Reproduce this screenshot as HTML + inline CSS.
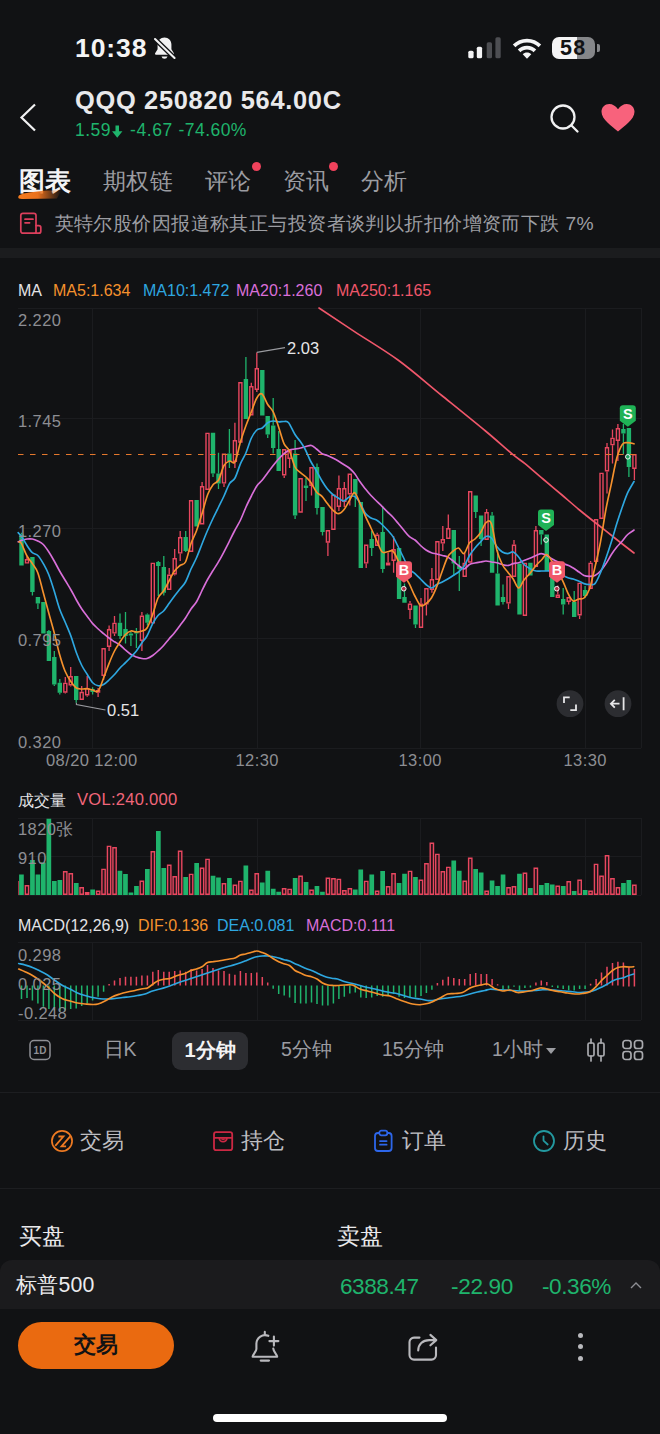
<!DOCTYPE html>
<html lang="zh">
<head>
<meta charset="utf-8">
<title>QQQ 250820 564.00C</title>
<style>
html,body{margin:0;padding:0;background:#111214;}
body{width:660px;height:1434px;position:relative;overflow:hidden;font-family:"Liberation Sans",sans-serif;color:#e9e9eb;}
.t{position:absolute;white-space:nowrap;line-height:1;}
.chart{position:absolute;left:0;top:300px;}
svg{display:block}
.ico{position:absolute;}
.g{color:#1fb46c}.gray{color:#8d8e93}.lg{color:#c9c9cd}
.ax{font-size:16.5px;color:#8d8e93;letter-spacing:.4px}
.lgd{font-size:16px;top:283px}
.band{position:absolute;left:0;width:660px;background:#1a1b1d}
.dot{position:absolute;width:9px;height:9px;border-radius:50%;background:#f0425c}
.tab{font-size:23.3px;color:#9b9ca1;top:169.5px;letter-spacing:.8px}
.per{font-size:19.5px;color:#9b9ca1;top:1040px}
.act{font-size:22px;color:#bdbdc1;top:1130px}
</style>
</head>
<body>

<!-- status bar -->
<div class="t" style="left:75px;top:35px;font-size:26.500px;font-weight:bold;color:#f4f4f5;letter-spacing:0.900px">10:38</div>
<svg class="ico" style="left:149.500px;top:33.500px" width="29" height="29" viewBox="0 0 26 26">
  <path d="M13 3.2c-3.6 0-6.2 2.7-6.2 6.3v4.2l-2.2 3.6c-.3.6 0 1.200.7 1.200h15.400c.7 0 1-.6.7-1.200l-2.200-3.600v-4.200c0-3.600-2.600-6.300-6.200-6.300z" fill="#f1f1f2"/>
  <path d="M10.300 20.200a2.800 2.800 0 0 0 5.400 0z" fill="#f1f1f2"/>
  <path d="M4.500 4.500L22 21.500" stroke="#111214" stroke-width="4.200" stroke-linecap="round"/>
  <path d="M4.500 4.500L22 21.500" stroke="#f1f1f2" stroke-width="1.900" stroke-linecap="round"/>
</svg>
<svg class="ico" style="left:466px;top:36px" width="36" height="24" viewBox="0 0 36 24">
  <rect x="2.300" y="14.700" width="5.300" height="7.600" rx="1.600" fill="#f4f4f5"/>
  <rect x="10.800" y="10.700" width="5.300" height="11.600" rx="1.600" fill="#f4f4f5"/>
  <rect x="20.700" y="6.300" width="5.300" height="16" rx="1.600" fill="#4d4e52"/>
  <rect x="29.400" y="1.300" width="5.300" height="21" rx="1.600" fill="#4d4e52"/>
</svg>
<svg class="ico" style="left:508.500px;top:34px" width="36" height="27" viewBox="0 0 32 24">
  <path d="M16 4.200c5 0 9.400 2 12.600 5.200l-2.300 2.400C23.700 9.200 20 7.600 16 7.600S8.300 9.200 5.700 11.800L3.400 9.400C6.600 6.200 11 4.200 16 4.200z" fill="#f4f4f5"/>
  <path d="M16 10.400c3.200 0 6.100 1.300 8.200 3.400l-2.400 2.400c-1.500-1.500-3.500-2.400-5.800-2.400s-4.300.9-5.800 2.400l-2.400-2.400c2.100-2.100 5-3.400 8.200-3.400z" fill="#f4f4f5"/>
  <path d="M16 16.500c1.500 0 2.800.6 3.800 1.600L16 22l-3.800-3.900c1-1 2.300-1.600 3.800-1.600z" fill="#f4f4f5"/>
</svg>
<div class="ico" style="left:552px;top:37px;width:43px;height:22px;border-radius:7px;background:linear-gradient(90deg,#f4f4f5 0,#f4f4f5 57%,#858689 57%,#858689 100%)"></div>
<div class="ico" style="left:596.500px;top:44px;width:3px;height:8px;border-radius:0 2px 2px 0;background:#858689"></div>
<div class="t" style="left:560px;top:37.500px;font-size:21.500px;font-weight:bold;color:#111214;letter-spacing:1.300px">58</div>

<!-- header -->
<svg class="ico" style="left:16px;top:100px" width="26" height="34" viewBox="0 0 26 34">
  <path d="M19 4.500L5.500 17.500L19 30.500" stroke="#f1f1f2" stroke-width="2.200" fill="none" stroke-linejoin="miter"/>
</svg>
<div class="t" style="left:75px;top:88px;font-size:25.400px;font-weight:bold;color:#e9e9eb;letter-spacing:0.700px">QQQ 250820 564.00C</div>
<div class="t g" style="left:75px;top:122px;font-size:17.500px;letter-spacing:0.500px">1.59</div>
<svg class="ico" style="left:111px;top:124.500px" width="12.500" height="13.500" viewBox="0 0 12 13"><path d="M4.300 0.500h3.400v5.500h3.300L6 12.200L1 6h3.300z" fill="#1fb46c"/></svg>
<div class="t g" style="left:130px;top:122px;font-size:17.500px;letter-spacing:0.600px">-4.67</div>
<div class="t g" style="left:178.500px;top:122px;font-size:17.500px;letter-spacing:0.450px">-74.60%</div>

<svg class="ico" style="left:546px;top:100px" width="36" height="36" viewBox="0 0 36 36">
  <circle cx="17" cy="17" r="11.500" stroke="#f1f1f2" stroke-width="2.300" fill="none"/>
  <path d="M25.500 25.500L31.500 31.500" stroke="#f1f1f2" stroke-width="2.300" stroke-linecap="round"/>
</svg>
<svg class="ico" style="left:598px;top:100px" width="40" height="36" viewBox="0 0 40 36">
  <path d="M20 31.500C14 26.500 3.500 19.500 3.500 11.800C3.500 7.200 7 4 11.200 4c3.400 0 6.600 2 8.800 5.200C22.200 6 25.400 4 28.800 4C33 4 36.500 7.200 36.500 11.800C36.500 19.500 26 26.500 20 31.500z" fill="#f8627c"/>
</svg>

<!-- tabs -->
<div class="t" style="left:19px;top:167.500px;font-size:26px;font-weight:bold;color:#f4f4f5">图表</div>
<svg class="ico" style="left:14px;top:186px" width="56" height="18" viewBox="14 186 56 18">
  <defs><linearGradient id="sw" x1="0" x2="1" y1="0" y2="0"><stop offset="0" stop-color="#f57c1f"/><stop offset="0.450" stop-color="#e8701c"/><stop offset="1" stop-color="#e8701c" stop-opacity="0"/></linearGradient></defs>
  <path d="M18.300 196.800C18.800 194.600 23 193.600 29 192.600L46 190.600L61.500 190.300L57 198.400L22 199C19.200 199 17.900 198.400 18.300 196.800z" fill="url(#sw)"/>
</svg>
<div class="t tab" style="left:102.500px;">期权链</div>
<div class="t tab" style="left:204.500px;">评论</div>
<div class="dot" style="left:251.500px;top:161.500px"></div>
<div class="t tab" style="left:282.500px;">资讯</div>
<div class="dot" style="left:328.500px;top:161.500px"></div>
<div class="t tab" style="left:360.500px;">分析</div>

<!-- news -->
<svg class="ico" style="left:16px;top:208px" width="30" height="30" viewBox="16 208 30 30">
  <g stroke="#dc3f5c" stroke-width="1.700" fill="none" stroke-linejoin="round" stroke-linecap="round">
  <path d="M23 213.400h10.800a2.200 2.200 0 0 1 2.200 2.200v17.600h-13a2.200 2.200 0 0 1-2.200-2.200v-15.400a2.200 2.200 0 0 1 2.200-2.200z"/>
  <path d="M36 225.600h2.800a2 2 0 0 1 2 2v3.600a2 2 0 0 1-2 2h-3.500"/>
  <path d="M25 219.200h8M25 222.800h4.600"/>
  </g>
</svg>
<div class="t" style="left:54.500px;top:213.500px;font-size:19.250px;letter-spacing:0.430px;color:#9d9ea3">英特尔股价因报道称其正与投资者谈判以折扣价增资而下跌 7%</div>

<div class="band" style="top:248px;height:9.500px;background:#1b1c1e"></div>

<!-- MA legend -->
<div class="t lgd" style="left:18px;color:#e3e3e6">MA</div>
<div class="t lgd" style="left:53px;color:#f5912d">MA5:1.634</div>
<div class="t lgd" style="left:143px;color:#2ea7e0">MA10:1.472</div>
<div class="t lgd" style="left:236px;color:#d96fd9">MA20:1.260</div>
<div class="t lgd" style="left:336px;color:#f0576b">MA250:1.165</div>

<svg class="chart" width="660" height="760" viewBox="0 300 660 760" shape-rendering="geometricPrecision">
<g stroke="#1b1c1f" stroke-width="1" fill="none">
<path d="M18 308.5 H641"/>
<path d="M18 418.5 H641"/>
<path d="M18 528.5 H641"/>
<path d="M18 638.5 H641"/>
<path d="M18 748.5 H641"/>
<path d="M92.5 308 V748"/>
<path d="M257.5 308 V748"/>
<path d="M420.5 308 V748"/>
<path d="M585.5 308 V748"/>
<path d="M641.5 308 V748"/>
<path d="M18 818.5 H641"/>
<path d="M18 856.5 H641"/>
<path d="M18 895.5 H641"/>
<path d="M92.5 818 V895"/>
<path d="M257.5 818 V895"/>
<path d="M420.5 818 V895"/>
<path d="M585.5 818 V895"/>
<path d="M641.5 818 V895"/>
<path d="M18 942.5 H641"/>
<path d="M18 1020.5 H641"/>
<path d="M92.5 942 V1020"/>
<path d="M257.5 942 V1020"/>
<path d="M420.5 942 V1020"/>
<path d="M585.5 942 V1020"/>
<path d="M641.5 942 V1020"/>
</g>
<path d="M19.3 534.5h4.4v31h-4.4zM30.2 557h4.4v35h-4.4zM35.7 597h4.4v6.6h-4.4zM41.2 602h4.4v31.6h-4.4zM46.7 631h4.4v30h-4.4zM52.1 657h4.4v27.5h-4.4zM57.6 682.7h4.4v10h-4.4zM74 676h4.4v24h-4.4zM90.4 689h4.4v3h-4.4zM117.8 622.7h4.4v13.3h-4.4zM123.3 629h4.4v7h-4.4zM128.7 633.6h4.4v1.9h-4.4zM134.2 632h4.4v1.6h-4.4zM145.2 614.5h4.4v8.2h-4.4zM156.1 562h4.4v4h-4.4zM161.6 567h4.4v25.7h-4.4zM183.5 537h4.4v14h-4.4zM194.4 500h4.4v26.4h-4.4zM210.8 432.7h4.4v40.9h-4.4zM216.3 473.6h4.4v10h-4.4zM227.2 453.6h4.4v7.4h-4.4zM243.7 379h4.4v40h-4.4zM260.1 370h4.4v45.5h-4.4zM265.5 416h4.4v18.5h-4.4zM271 425.5h4.4v22.5h-4.4zM276.5 449h4.4v22h-4.4zM292.9 453.6h4.4v61.9h-4.4zM303.8 485.5h4.4v2.5h-4.4zM314.8 467h4.4v41h-4.4zM320.3 507h4.4v25h-4.4zM353.1 479h4.4v15.5h-4.4zM358.6 502h4.4v66h-4.4zM369.5 539h4.4v9h-4.4zM380.5 532h4.4v37h-4.4zM396.9 548h4.4v51h-4.4zM402.3 597h4.4v5.7h-4.4zM413.3 605.5h4.4v19h-4.4zM451.6 530h4.4v33.6h-4.4zM457.1 566h4.4v3h-4.4zM473.5 495.5h4.4v16.5h-4.4zM478.9 515.5h4.4v23.5h-4.4zM489.9 515.5h4.4v57.2h-4.4zM495.4 573.6h4.4v31.9h-4.4zM500.8 597h4.4v5h-4.4zM517.3 563.6h4.4v50.9h-4.4zM528.2 562.7h4.4v12.8h-4.4zM539.1 530h4.4v4.5h-4.4zM544.6 534.5h4.4v36.5h-4.4zM550.1 571h4.4v26h-4.4zM561 599h4.4v5.5h-4.4zM572 602h4.4v15h-4.4zM582.9 590h4.4v6h-4.4zM621.2 429h4.4v4.6h-4.4zM626.7 428h4.4v39h-4.4z" fill="#1fb46c"/>
<path d="M21.5 532.7V534.5M32.4 592V595.5M37.9 603.6V609M48.9 630V631M54.3 651V657M54.3 684.5V686M59.8 679V682.7M59.8 692.7V694.5M76.2 700V702.7M92.6 687.3V689M92.6 692V694.5M120 613.6V622.7M120 636V639M125.5 612V629M125.5 636V643.6M130.9 632V633.6M130.9 635.5V646M136.4 628V632M136.4 633.6V648M147.4 613.6V614.5M147.4 622.7V625.5M158.3 561V562M158.3 566V596M163.8 556V567M163.8 592.7V595.5M185.7 531V537M185.7 551V552M213 473.6V477M218.5 452.7V473.6M218.5 483.6V489M229.4 429V453.6M229.4 461V468M245.9 357V379M267.7 434.5V438M273.2 398V425.5M273.2 448V453.6M278.7 431V449M295.1 440V453.6M295.1 515.5V519M306 478V485.5M306 488V501M317 463.6V467M317 508V514.5M322.5 532V535.5M355.3 494.5V507M371.7 531V539M371.7 548V556M382.7 506V532M382.7 569V572.7M404.5 583.6V597M415.5 624.5V628M453.8 563.6V575.5M459.3 556V566M459.3 569V591M475.7 512V518M481.1 539V546M492.1 512V515.5M497.6 550V573.6M503 584.5V597M503 602V604.5M541.3 534.5V544.5M563.2 588V599M563.2 604.5V614.5M574.2 591V602M585.1 586V590M585.1 596V598M623.4 424V429M623.4 433.6V454M628.9 467V477" stroke="#1fb46c" stroke-width="1.3" fill="none"/>
<path d="M25.5 559.7h3v3.2h-3zM63.8 683.4h3v8.6h-3zM69.2 676.7h3v8.1h-3zM80.2 692.5h3v6.8h-3zM85.7 688.7h3v6.1h-3zM96.6 690.7h3v1.3h-3zM102.1 648.7h3v26.6h-3zM107.6 629.7h3v16.6h-3zM113 623.4h3v9.5h-3zM140.4 616.2h3v24.1h-3zM151.3 563.4h3v59.5h-3zM167.7 575.2h3v14.1h-3zM173.2 558.7h3v15.1h-3zM178.7 537.7h3v15.2h-3zM189.6 500.7h3v50.6h-3zM200.6 486.7h3v37.1h-3zM206 433.4h3v55.9h-3zM222.5 454.3h3v28.6h-3zM233.4 440.7h3v20.6h-3zM238.9 382.7h3v59.3h-3zM249.8 386.7h3v28.1h-3zM255.3 368.7h3v20.6h-3zM282.7 449.7h3v25.1h-3zM288.1 450.7h3v7.6h-3zM299.1 478.7h3v33.3h-3zM310 467.7h3v17.6h-3zM326.4 530.7h3v11.3h-3zM331.9 495.2h3v34.1h-3zM337.4 488.7h3v17.6h-3zM342.8 488.7h3v12.6h-3zM348.3 474.3h3v19.5h-3zM364.7 545.2h3v17.7h-3zM375.7 535.2h3v10.1h-3zM386.6 563.2h3v1.6h-3zM392.1 549.7h3v10.6h-3zM408.5 604.3h3v5h-3zM419.5 604.3h3v23h-3zM424.9 588.7h3v15.1h-3zM430.4 579.7h3v9.6h-3zM435.9 541.7h3v37.6h-3zM441.3 539.7h3v3.2h-3zM446.8 528.7h3v9.6h-3zM463.2 563.4h3v12.9h-3zM468.7 491.7h3v70.3h-3zM485.1 512.7h3v26.6h-3zM507 576.7h3v26.2h-3zM512.5 545.2h3v31.1h-3zM523.4 563.4h3v51.9h-3zM534.4 530.7h3v35.6h-3zM556.3 595.2h3v2.1h-3zM567.2 597.7h3v3.6h-3zM578.1 583.4h3v31.4h-3zM589.1 563.4h3v24.9h-3zM594.6 519.7h3v41.6h-3zM600 473.4h3v44.9h-3zM605.5 447.7h3v23.1h-3zM611 438.4h3v6.2h-3zM616.4 428.7h3v11.6h-3zM632.9 454.7h3v13.6h-3z" stroke="#e8475f" stroke-width="1.4" fill="#111214"/>
<path d="M27 556.5V559M65.3 677V682.7M65.3 692.7V693.6M70.7 667V676M70.7 685.5V686.4M81.7 686V691.8M87.2 676V688M87.2 695.5V696.7M98.1 688V690M98.1 692.7V697M103.6 676V680M109.1 625.5V629M109.1 647V651M114.5 616V622.7M114.5 633.6V636M141.9 612V615.5M141.9 641V651M169.2 568V574.5M174.7 549V558M174.7 574.5V575.5M180.2 531V537M180.2 553.6V561M202.1 482V486M224 483.6V487M234.9 422.7V440M234.9 462V468M251.3 382.7V386M256.8 352.4V368M256.8 390V392M284.2 475.5V478M289.6 449V450M289.6 459V468M311.5 486V495.5M327.9 542.7V556M338.9 475.5V488M338.9 507V511M344.3 482V488M344.3 502V507M349.8 494.5V505.5M366.2 563.6V568M377.2 532.7V534.5M388.1 552.7V562.5M393.6 536V549M393.6 561V572.7M410 601V603.6M410 610V619M421 598V603.6M426.4 604.5V615.5M431.9 568V579M431.9 590V592.7M442.8 526V539M442.8 543.6V551M448.3 514.5V528M464.7 552.7V562.7M486.6 509V512M508.5 603.6V609M514 540V544.5M535.9 526V530M557.8 585.5V594.5M568.7 602V604.5M579.6 615.5V619M590.6 561V562.7M596.1 562V563.6M607 443V447M607 471.5V493.6M612.5 429.5V437.7M612.5 445.3V463.6M617.9 424V428M617.9 441V461M634.4 469V480" stroke="#e8475f" stroke-width="1.3" fill="none"/>
<path d="M18 454.5H641" stroke="#e5782d" stroke-width="1.2" stroke-dasharray="5.5 6.5" fill="none"/>
<path d="M319 308 C324.9 311.9 341.3 322.9 354.5 331.6 C367.7 340.3 383.4 349.4 398 360 C412.6 370.6 427.2 383.7 441.8 395.5 C456.4 407.3 473.7 421.2 485.5 431 C497.3 440.8 506.1 449 512.7 454.4 C519.3 459.8 520 459.5 525 463.6 C530 467.7 536.9 473.9 543 479 C549.1 484.1 555.3 489.3 561.4 494.5 C567.5 499.7 573.5 505 579.5 510 C585.5 515 591.6 519.7 597.7 524.5 C603.8 529.3 610 534.2 616 539 C622 543.8 631 550.7 634 553" stroke="#f0576b" stroke-width="1.65" fill="none" stroke-linejoin="round" stroke-linecap="round"/>
<path d="M18.2 541.8 C18.8 541.6 20 540.9 21.5 540.4 C23 539.9 25.2 539.2 27 539 C28.8 538.8 30.6 538.7 32.4 539 C34.2 539.3 36 540.1 37.8 541 C39.6 541.9 41.5 542.7 43.3 544.5 C45.1 546.3 46.9 549 48.7 551.8 C50.5 554.5 52.4 557.8 54.2 561 C56 564.2 57.8 567.8 59.6 571 C61.4 574.2 63.1 576.8 65 580 C66.9 583.2 69.1 586.7 71 590 C72.9 593.3 74.6 596.8 76.4 600 C78.2 603.2 80 606.3 81.8 609 C83.6 611.7 85.5 614 87.3 616.4 C89.1 618.8 90.9 621.5 92.7 623.6 C94.5 625.7 96.4 627.3 98.2 629 C100 630.7 101.8 632.1 103.6 633.6 C105.4 635.1 107.2 636.6 109 638 C110.8 639.4 112.7 640.6 114.5 641.8 C116.3 643 118.2 643.6 120 645 C121.8 646.4 123.7 648.4 125.5 650 C127.3 651.6 129.2 653.3 131 654.5 C132.8 655.7 134.6 656.3 136.4 657 C138.2 657.7 140.2 658.2 142 658.5 C143.8 658.8 145.2 659 147 658.5 C148.8 658 150.9 656.8 152.7 655.5 C154.5 654.2 156.2 652.7 158 651 C159.8 649.3 161.8 647.5 163.6 645.5 C165.4 643.5 167.2 641.1 169 639 C170.8 636.9 172.7 635 174.5 632.7 C176.3 630.5 178.2 628 180 625.5 C181.8 623 183.7 620.8 185.5 618 C187.3 615.2 189.2 611.7 191 609 C192.8 606.3 194.6 605 196.4 602 C198.2 599 200 594.7 201.8 591 C203.6 587.3 205.5 583.3 207.3 580 C209.1 576.7 210.9 573.9 212.7 571 C214.5 568.1 216.2 565.8 218 562.7 C219.8 559.7 221.8 556.2 223.6 552.7 C225.4 549.2 227.2 545.6 229 542 C230.8 538.4 232.6 534.7 234.5 531 C236.4 527.3 238.6 524 240.5 520 C242.4 516 244.2 511 246 507 C247.8 503 249.6 499.5 251.4 496 C253.2 492.5 255 488.7 256.8 486 C258.6 483.3 260.5 482.2 262.3 480 C264.1 477.8 265.9 475.1 267.7 472.7 C269.5 470.3 271.4 467.8 273.2 465.5 C275 463.2 276.8 461 278.6 459 C280.4 457 282.2 455.1 284 453.6 C285.8 452.1 287.7 450.8 289.5 450 C291.3 449.2 293.2 449.3 295 449 C296.8 448.7 298.7 448.4 300.5 448 C302.3 447.6 304.2 446.9 306 446.5 C307.8 446.1 309.6 445.1 311.4 445.5 C313.1 445.9 314.7 447.6 316.5 449 C318.3 450.4 320.2 452.5 322 453.6 C323.8 454.7 325.6 454.8 327.4 455.5 C329.2 456.2 331 457.1 332.8 458 C334.6 458.9 336.5 459.9 338.3 461 C340.1 462.1 341.9 463.3 343.7 464.5 C345.5 465.7 347.4 466.5 349.2 468 C351 469.5 352.8 471.3 354.6 473.6 C356.4 475.9 358.2 479.2 360 481.8 C361.8 484.4 363.7 486.7 365.5 489 C367.3 491.3 369.2 493.5 371 495.5 C372.8 497.5 374.7 499.2 376.5 501 C378.3 502.8 380.2 504.6 382 506.4 C383.8 508.2 385.6 510 387.4 511.8 C389.2 513.6 391 515 392.8 517 C394.6 519 396.5 521.4 398.3 523.6 C400.1 525.8 401.9 527.9 403.7 530 C405.5 532.1 407.3 534.7 409.2 536.4 C411.1 538.1 413.1 538.5 415 540 C416.9 541.5 418.7 543.8 420.5 545.5 C422.3 547.2 424.2 548.8 426 550 C427.8 551.2 429.6 552 431.4 552.7 C433.2 553.4 435 553.5 436.8 554 C438.6 554.5 440.5 555 442.3 555.5 C444.1 556 445.9 556.1 447.7 557 C449.5 557.9 451.4 559.6 453.2 561 C455 562.4 456.8 564.2 458.6 565.5 C460.4 566.8 462.2 569.2 464 569 C465.8 568.8 467.7 565.5 469.5 564.5 C471.3 563.5 473.2 563.4 475 563 C476.8 562.6 478.7 562.3 480.5 562 C482.3 561.7 484.2 561 486 561 C487.8 561 489.6 561.7 491.4 562 C493.2 562.3 495 562.3 496.8 562.7 C498.6 563.1 500.5 564 502.3 564.5 C504.1 565 505.9 565.6 507.7 565.5 C509.5 565.4 511.4 564.1 513.2 563.6 C515 563.1 516.8 563.2 518.6 562.7 C520.4 562.2 522 561.3 524 560.5 C526 559.7 528.5 558.8 530.5 558 C532.5 557.2 534.2 556.2 536 555.5 C537.8 554.8 539.6 553.6 541.4 553.6 C543.2 553.6 545 554.6 546.8 555.5 C548.6 556.4 550.5 558 552.3 559 C554.1 560 555.9 561 557.7 561.8 C559.5 562.6 561.4 563 563.2 563.6 C565 564.2 566.9 564.8 568.6 565.5 C570.3 566.2 571.5 567 573.2 568 C574.9 569 576.8 570.5 578.6 571.8 C580.4 573 582.2 574.7 584 575.5 C585.8 576.3 587.7 576.4 589.5 576.4 C591.3 576.4 593.2 576.4 595 575.5 C596.8 574.6 598.7 573 600.5 571 C602.3 569 604.2 566.4 606 563.6 C607.8 560.9 609.6 557.3 611.4 554.5 C613.2 551.7 615 549.2 616.8 547 C618.6 544.8 620.5 543.1 622.3 541 C624.1 538.9 625.8 536.3 627.7 534.5 C629.7 532.7 633 530.8 634 530" stroke="#d96fd9" stroke-width="1.65" fill="none" stroke-linejoin="round" stroke-linecap="round"/>
<path d="M18.2 532.7 C18.8 533.3 20 534.3 21.5 536.4 C23 538.5 25.2 542.8 27 545.5 C28.8 548.2 30.6 551 32.4 552.7 C34.2 554.4 36 553.7 37.8 555.5 C39.6 557.3 41.5 560.4 43.3 563.6 C45.1 566.8 46.9 569.9 48.7 574.5 C50.5 579.1 52.4 585.2 54.2 591 C56 596.8 57.8 603.9 59.6 609 C61.4 614.1 63.1 617.2 65 621.8 C66.9 626.4 69.1 631.2 71 636.4 C72.9 641.5 74.6 647.9 76.4 652.7 C78.2 657.6 80 661.9 81.8 665.5 C83.6 669.1 85.5 671.6 87.3 674.5 C89.1 677.4 90.9 680.8 92.7 682.7 C94.5 684.6 96.4 685.5 98.2 685.8 C100 686.1 101.8 685.5 103.6 684.5 C105.4 683.5 107.2 681.7 109 680 C110.8 678.3 112.7 676.5 114.5 674.5 C116.3 672.5 118.2 670 120 668 C121.8 666 123.7 664.5 125.5 662.7 C127.3 660.9 129.2 659 131 657 C132.8 655 134.6 653.4 136.4 651 C138.2 648.6 140.2 645.2 142 642.7 C143.8 640.2 145.2 639.2 147 636 C148.8 632.8 150.9 627 152.7 623.6 C154.5 620.2 156.2 617.6 158 615.5 C159.8 613.4 161.8 613 163.6 611 C165.4 609 167.2 606.1 169 603.6 C170.8 601.1 172.7 598.4 174.5 596 C176.3 593.6 178.2 591.3 180 589 C181.8 586.7 183.7 585.3 185.5 582 C187.3 578.7 189.2 573 191 569 C192.8 565 194.6 562.1 196.4 558 C198.2 553.9 200 549 201.8 544.5 C203.6 540 205.4 535.4 207.3 531 C209.2 526.6 211.3 522 213.2 518 C215.1 514 216.8 510.7 218.6 507 C220.4 503.3 222.2 499.9 224 496 C225.8 492.1 227.7 486.6 229.5 483.6 C231.3 480.6 233.2 481.3 235 478 C236.8 474.7 238.7 467.8 240.5 463.6 C242.3 459.4 244.2 457 246 452.7 C247.8 448.4 249.6 441.8 251.4 438 C253.2 434.2 255 431.7 256.8 430 C258.6 428.3 260.5 429.2 262.3 428 C264.1 426.8 265.9 423.9 267.7 422.7 C269.5 421.5 271.4 421.1 273.2 421 C275 420.9 276.8 421.7 278.6 421.8 C280.4 421.9 282.3 421.4 284 421.5 C285.7 421.6 286.8 420.5 288.6 422.7 C290.4 424.9 293 431.3 295 434.5 C297 437.7 298.8 439.4 300.5 441.8 C302.2 444.2 303.3 445.8 305 449 C306.7 452.2 308.6 457.3 310.5 461 C312.4 464.7 314.6 467.7 316.5 471 C318.4 474.3 320.2 478 322 481 C323.8 484 325.6 486.8 327.4 489 C329.2 491.2 331 493 332.8 494.5 C334.6 496 336.5 496.9 338.3 498 C340.1 499.1 341.9 501.2 343.7 501 C345.5 500.8 347.4 497.8 349.2 497 C351 496.2 352.8 495.4 354.6 496.4 C356.4 497.3 358.2 499.8 360 502.7 C361.8 505.6 363.7 511.1 365.5 513.6 C367.3 516.1 369.2 516.9 371 518 C372.8 519.1 374.7 518.9 376.5 520 C378.3 521.1 380.2 522.8 382 524.5 C383.8 526.2 385.6 528 387.4 530 C389.2 532 391 533.6 392.8 536.4 C394.6 539.2 396.5 543.4 398.3 547 C400.1 550.6 401.9 554.3 403.7 558 C405.5 561.7 407.3 566.4 409.2 569 C411.1 571.6 413.1 571.9 415 573.6 C416.9 575.3 418.7 577.2 420.5 579 C422.3 580.8 424.2 583 426 584.5 C427.8 586 429.6 588 431.4 588 C433.2 588 435 585.5 436.8 584.5 C438.6 583.5 440.5 582.9 442.3 582 C444.1 581.1 445.9 580.1 447.7 579 C449.5 577.9 451.4 576.7 453.2 575.5 C455 574.3 456.8 573.5 458.6 572 C460.4 570.5 462.2 569.1 464 566.4 C465.8 563.6 467.7 558.6 469.5 555.5 C471.3 552.4 473.2 550.2 475 548 C476.8 545.8 478.7 543.9 480.5 542 C482.3 540.1 484.2 537.1 486 536.4 C487.8 535.7 489.6 536.3 491.4 538 C493.2 539.7 495 544.1 496.8 546.4 C498.6 548.7 500.5 550.8 502.3 552 C504.1 553.2 505.9 553.6 507.7 553.6 C509.5 553.6 511.4 551.4 513.2 552 C515 552.6 516.8 554.9 518.6 557 C520.4 559.1 522 562.5 524 564.5 C526 566.5 528.5 567.9 530.5 569 C532.5 570.1 534.2 570.7 536 571 C537.8 571.3 539.6 571 541.4 571 C543.2 571 545 571 546.8 571 C548.6 571 550.5 570.7 552.3 571 C554.1 571.3 555.9 572 557.7 572.7 C559.5 573.5 561.4 574.6 563.2 575.5 C565 576.4 566.9 577.4 568.6 578 C570.3 578.6 571.5 578.5 573.2 579 C574.9 579.5 576.8 580.2 578.6 581 C580.4 581.8 582.2 583 584 583.6 C585.8 584.2 587.7 584.5 589.5 584.5 C591.3 584.5 593.2 585.6 595 583.6 C596.8 581.6 598.7 577 600.5 572.7 C602.3 568.4 604.2 563.1 606 558 C607.8 552.9 609.6 547.5 611.4 541.8 C613.2 536.1 615 529.4 616.8 523.6 C618.6 517.8 620.5 512.1 622.3 507 C624.1 501.9 625.8 496.9 627.7 492.7 C629.7 488.4 633 483.4 634 481.5" stroke="#2ea7e0" stroke-width="1.65" fill="none" stroke-linejoin="round" stroke-linecap="round"/>
<path d="M19 541.8 C19.4 542.1 20.2 541.2 21.5 543.6 C22.8 546 25.2 552.7 27 556 C28.8 559.3 30.6 560.8 32.4 563.6 C34.2 566.4 36 567.9 37.8 572.7 C39.6 577.6 41.5 586 43.3 592.7 C45.1 599.4 46.9 606 48.7 612.7 C50.5 619.4 52.4 625.7 54.2 632.7 C56 639.7 57.8 648.1 59.6 654.5 C61.4 660.9 63.1 666.5 65 671 C66.9 675.5 69.1 679 71 681.8 C72.9 684.6 74.6 686.8 76.4 688 C78.2 689.2 80 688.9 81.8 689 C83.6 689.1 85.5 688.5 87.3 688.7 C89.1 688.9 90.9 689.6 92.7 690 C94.5 690.4 96.4 693 98.2 691 C100 689 101.8 682.6 103.6 678 C105.4 673.4 107.2 668.1 109 663.6 C110.8 659.1 112.7 654.6 114.5 651 C116.3 647.4 118.2 644.8 120 642 C121.8 639.2 123.7 636.3 125.5 634.5 C127.3 632.7 129.2 631.4 131 631 C132.8 630.6 134.6 632 136.4 632 C138.2 632 140.2 631.7 142 631 C143.8 630.3 145.2 630.8 147 628 C148.8 625.2 150.9 619.5 152.7 614.5 C154.5 609.5 156.2 601.9 158 598 C159.8 594.1 161.8 593.8 163.6 591 C165.4 588.2 167.2 584.3 169 581 C170.8 577.7 172.7 573.6 174.5 571 C176.3 568.4 178.2 567 180 565.5 C181.8 564 183.7 565.6 185.5 562 C187.3 558.4 189.2 548.8 191 543.6 C192.8 538.4 194.5 536.1 196.4 531 C198.3 525.9 200.4 518.8 202.3 512.7 C204.2 506.6 205.9 499.2 207.7 494.5 C209.5 489.8 211.4 486.9 213.2 484.5 C215 482.1 216.8 483.2 218.6 480 C220.4 476.8 222.2 468.7 224 465.5 C225.8 462.3 227.7 461.6 229.5 461 C231.3 460.4 233.2 465 235 461.8 C236.8 458.6 238.7 447.9 240.5 441.8 C242.3 435.8 244.2 430.5 246 425.5 C247.8 420.5 249.6 416.4 251.4 411.8 C253.2 407.2 255 401 256.8 398 C258.6 395 260.2 392.9 262 394 C263.8 395.1 265.8 401.5 267.7 404.5 C269.6 407.5 271.4 408.1 273.2 411.8 C275 415.6 276.8 421.7 278.6 427 C280.4 432.3 282.2 439.6 284 443.6 C285.8 447.6 287.7 447.1 289.5 451 C291.3 454.9 293.2 463.4 295 467 C296.8 470.6 298.7 471 300.5 472.7 C302.3 474.4 304.3 475.4 306 477 C307.7 478.6 308.8 479.5 310.5 482 C312.2 484.5 314.6 489.6 316.5 492 C318.4 494.4 320.2 494.5 322 496.4 C323.8 498.3 325.6 501.3 327.4 503.6 C329.2 505.9 331 508.3 332.8 510 C334.6 511.7 336.5 513.6 338.3 513.6 C340.1 513.6 341.9 512.1 343.7 510 C345.5 507.9 347.4 503.9 349.2 501 C351 498.1 352.8 492.3 354.6 492.7 C356.4 493.1 358.2 499.7 360 503.6 C361.8 507.6 363.7 512.3 365.5 516.4 C367.3 520.5 369.2 524.1 371 528 C372.8 531.9 374.7 536 376.5 540 C378.3 544 380.2 549.8 382 551.8 C383.8 553.8 385.6 551.9 387.4 551.8 C389.2 551.7 391 549.5 392.8 551 C394.6 552.5 396.5 557.1 398.3 561 C400.1 564.9 401.9 570.7 403.7 574.5 C405.5 578.3 407.4 580.1 409.2 583.6 C411 587.1 412.7 591.9 414.6 595.5 C416.5 599.1 418.6 604.1 420.5 605.5 C422.4 606.9 424.2 604.9 426 603.6 C427.8 602.4 429.6 600.9 431.4 598 C433.2 595.1 435 590.9 436.8 586.4 C438.6 581.9 440.5 575.9 442.3 571 C444.1 566.1 445.9 560.3 447.7 557 C449.5 553.7 451.4 552.5 453.2 551 C455 549.5 456.8 547.6 458.6 548 C460.4 548.4 462.2 554.5 464 553.6 C465.8 552.7 467.7 545.1 469.5 542.7 C471.3 540.3 473.2 540.7 475 539 C476.8 537.3 478.7 535.4 480.5 532.7 C482.3 530 484.2 524.2 486 522.7 C487.8 521.2 489.6 519.1 491.4 523.6 C493.2 528.1 495 543.2 496.8 550 C498.6 556.8 500.5 560.8 502.3 564.5 C504.1 568.2 505.9 569.6 507.7 572 C509.5 574.4 511.4 576.3 513.2 579 C515 581.7 516.8 587.8 518.6 588 C520.4 588.2 522 582.5 524 580 C526 577.5 528.5 575.1 530.5 572.7 C532.5 570.3 534.2 567.6 536 565.5 C537.8 563.4 539.6 561.8 541.4 560 C543.2 558.2 545 554.2 546.8 554.5 C548.6 554.8 550.5 559 552.3 561.8 C554.1 564.5 555.9 567.7 557.7 571 C559.5 574.3 561.4 577.9 563.2 581.8 C565 585.7 566.9 591.3 568.6 594.5 C570.3 597.7 571.5 600.2 573.2 601 C574.9 601.8 576.8 599.5 578.6 599 C580.4 598.5 582.2 599.7 584 598 C585.8 596.3 587.7 594.2 589.5 589 C591.3 583.8 593.2 574.9 595 567 C596.8 559.1 598.7 551.5 600.5 541.8 C602.3 532.1 604.2 518.7 606 509 C607.8 499.3 609.6 492.1 611.4 483.6 C613.2 475.1 615 464.5 616.8 458 C618.6 451.5 620.5 447.1 622.3 444.5 C624.1 441.9 625.8 442.8 627.7 442.7 C629.7 442.6 633 443.6 634 443.8" stroke="#f5912d" stroke-width="1.65" fill="none" stroke-linejoin="round" stroke-linecap="round"/>
<path d="M256.8 352.4 L285 347.6" stroke="#9a9ba0" stroke-width="1.1" fill="none"/>
<path d="M76.4 702.7 V704.5 L105.5 710" stroke="#9a9ba0" stroke-width="1.1" fill="none"/>
<path d="M396 564.2 a3 3 0 0 1 3 -3 h10 a3 3 0 0 1 3 3 v12.5 l-8 6 l-8 -6 z" fill="#f0586a"/><text x="404" y="575.1" font-family="Liberation Sans, sans-serif" font-weight="bold" font-size="14.5" fill="#fff" text-anchor="middle">B</text>
<circle cx="403.8" cy="588.7" r="2.3" fill="#b5324a" stroke="#f3f3f3" stroke-width="1"/>
<path d="M538 512.5 a3 3 0 0 1 3 -3 h10 a3 3 0 0 1 3 3 v12.5 l-8 6 l-8 -6 z" fill="#1fb256"/><text x="546" y="523.4" font-family="Liberation Sans, sans-serif" font-weight="bold" font-size="14.5" fill="#fff" text-anchor="middle">S</text>
<circle cx="546" cy="540" r="2.3" fill="#17a05a" stroke="#f3f3f3" stroke-width="1"/>
<path d="M549 564.2 a3 3 0 0 1 3 -3 h10 a3 3 0 0 1 3 3 v12.5 l-8 6 l-8 -6 z" fill="#f0586a"/><text x="557" y="575.1" font-family="Liberation Sans, sans-serif" font-weight="bold" font-size="14.5" fill="#fff" text-anchor="middle">B</text>
<circle cx="556.8" cy="588.7" r="2.3" fill="#b5324a" stroke="#f3f3f3" stroke-width="1"/>
<path d="M619.8 408.3 a3 3 0 0 1 3 -3 h10 a3 3 0 0 1 3 3 v12.5 l-8 6 l-8 -6 z" fill="#1fb256"/><text x="627.8" y="419.2" font-family="Liberation Sans, sans-serif" font-weight="bold" font-size="14.5" fill="#fff" text-anchor="middle">S</text>
<circle cx="627.8" cy="456.8" r="2.3" fill="#17a05a" stroke="#f3f3f3" stroke-width="1"/>
<circle cx="570" cy="703.7" r="13.4" fill="#2c2d31"/>
<path d="M564 703 v-5.700 h5.700 M576 704.400 v5.700 h-5.700" stroke="#e6e6e8" stroke-width="1.800" fill="none"/>
<circle cx="618" cy="703.7" r="13.4" fill="#2c2d31"/>
<path d="M611 703.700 h8.500 M614.800 699.800 l-3.900 3.900 l3.900 3.900 M623.600 697.200 v13" stroke="#e6e6e8" stroke-width="1.800" fill="none"/>
<path d="M18.6 881V895" stroke="#e8475f" stroke-width="1" opacity=".75"/>
<path d="M19.1 874.5h4.7v20.5h-4.7zM30.1 860h4.7v35h-4.7zM35.6 874.5h4.7v20.5h-4.7zM41 862.5h4.7v32.5h-4.7zM46.5 818.7h4.7v76.3h-4.7zM52 881h4.7v14h-4.7zM57.5 880h4.7v15h-4.7zM73.9 883h4.7v12h-4.7zM90.3 889.5h4.7v5.5h-4.7zM117.6 870.7h4.7v24.3h-4.7zM123.1 874h4.7v21h-4.7zM128.6 892.5h4.7v2.5h-4.7zM134.1 886h4.7v9h-4.7zM145 869h4.7v26h-4.7zM156 831h4.7v64h-4.7zM161.4 868h4.7v27h-4.7zM183.3 877h4.7v18h-4.7zM194.3 863h4.7v32h-4.7zM210.7 875.7h4.7v19.3h-4.7zM216.1 877.5h4.7v17.5h-4.7zM227.1 878h4.7v17h-4.7zM243.5 865.5h4.7v29.5h-4.7zM259.9 882.5h4.7v12.5h-4.7zM265.4 870.7h4.7v24.3h-4.7zM270.9 888.7h4.7v6.3h-4.7zM276.3 891.7h4.7v3.3h-4.7zM292.8 878h4.7v17h-4.7zM303.7 882h4.7v13h-4.7zM314.6 886h4.7v9h-4.7zM320.1 891.7h4.7v3.3h-4.7zM352.9 889.5h4.7v5.5h-4.7zM358.4 869.5h4.7v25.5h-4.7zM369.4 874.5h4.7v20.5h-4.7zM380.3 871h4.7v24h-4.7zM396.7 883h4.7v12h-4.7zM402.2 873.7h4.7v21.3h-4.7zM413.1 877h4.7v18h-4.7zM451.4 860.5h4.7v34.5h-4.7zM456.9 870.7h4.7v24.3h-4.7zM473.3 869h4.7v26h-4.7zM478.8 872.5h4.7v22.5h-4.7zM489.7 880.5h4.7v14.5h-4.7zM495.2 886h4.7v9h-4.7zM500.7 874.5h4.7v20.5h-4.7zM517.1 873.7h4.7v21.3h-4.7zM528 888h4.7v7h-4.7zM539 885h4.7v10h-4.7zM544.5 883h4.7v12h-4.7zM549.9 884.5h4.7v10.5h-4.7zM560.9 886h4.7v9h-4.7zM571.8 891h4.7v4h-4.7zM582.8 890h4.7v5h-4.7zM621.1 883h4.7v12h-4.7zM626.5 880h4.7v15h-4.7z" fill="#1fb46c"/>
<path d="M25.3 885.7h3.3v8.6h-3.3zM63.6 871.7h3.3v22.6h-3.3zM69.1 873.7h3.3v20.6h-3.3zM80 887.7h3.3v6.6h-3.3zM85.5 892.7h3.3v1.6h-3.3zM96.5 891.2h3.3v3.1h-3.3zM101.9 869.4h3.3v24.9h-3.3zM107.4 846.4h3.3v47.9h-3.3zM112.9 847.7h3.3v46.6h-3.3zM140.2 881.2h3.3v13.1h-3.3zM151.2 851.7h3.3v42.6h-3.3zM167.6 865.2h3.3v29.1h-3.3zM173.1 876.7h3.3v17.6h-3.3zM178.5 851.2h3.3v43.1h-3.3zM189.5 874.4h3.3v19.9h-3.3zM200.4 868.2h3.3v26.1h-3.3zM205.9 859.4h3.3v34.9h-3.3zM222.3 883.7h3.3v10.6h-3.3zM233.3 885.2h3.3v9.1h-3.3zM238.7 881.4h3.3v12.9h-3.3zM249.7 890.2h3.3v4.1h-3.3zM255.1 873.7h3.3v20.6h-3.3zM282.5 888.7h3.3v5.6h-3.3zM288 889.4h3.3v4.9h-3.3zM298.9 876.2h3.3v18.1h-3.3zM309.9 890.2h3.3v4.1h-3.3zM326.3 878.2h3.3v16.1h-3.3zM331.8 878.7h3.3v15.6h-3.3zM337.2 879.4h3.3v14.9h-3.3zM342.7 890.7h3.3v3.6h-3.3zM348.2 888.7h3.3v5.6h-3.3zM364.6 881.4h3.3v12.9h-3.3zM375.5 891.2h3.3v3.1h-3.3zM386.5 886.7h3.3v7.6h-3.3zM391.9 873.7h3.3v20.6h-3.3zM408.4 871.4h3.3v22.9h-3.3zM419.3 880.2h3.3v14.1h-3.3zM424.8 863.7h3.3v30.6h-3.3zM430.2 843.2h3.3v51.1h-3.3zM435.7 854.4h3.3v39.9h-3.3zM441.2 871.7h3.3v22.6h-3.3zM446.7 867.4h3.3v26.9h-3.3zM463.1 881.2h3.3v13.1h-3.3zM468.6 858.2h3.3v36.1h-3.3zM485 891.2h3.3v3.1h-3.3zM506.9 887.7h3.3v6.6h-3.3zM512.3 886.7h3.3v7.6h-3.3zM523.3 873.2h3.3v21.1h-3.3zM534.2 868.2h3.3v26.1h-3.3zM556.1 886.2h3.3v8.1h-3.3zM567.1 881.7h3.3v12.6h-3.3zM578 880.2h3.3v14.1h-3.3zM588.9 891.2h3.3v3.1h-3.3zM594.4 864.4h3.3v29.9h-3.3zM599.9 876.2h3.3v18.1h-3.3zM605.4 855.7h3.3v38.6h-3.3zM610.8 878.7h3.3v15.6h-3.3zM616.3 887.7h3.3v6.6h-3.3zM632.7 885.2h3.3v9.1h-3.3z" stroke="#e8475f" stroke-width="1.4" fill="#26141a"/>
<path d="M21.5 985.5V999M27 985.5V998M32.4 985.5V1000.5M37.9 985.5V1003.5M43.4 985.5V1006.7M48.9 985.5V1009M54.3 985.5V1010.5M59.8 985.5V1011M65.3 985.5V1010.5M70.7 985.5V1009M76.2 985.5V1008.5M81.7 985.5V1006M87.2 985.5V1003.5M92.6 985.5V1000.5M98.1 985.5V996.7M103.6 985.5V991.7M273.2 985.5V988.7M278.7 985.5V994M284.2 985.5V995.5M289.6 985.5V997.5M295.1 985.5V1003M300.6 985.5V1003.5M306 985.5V1003.5M311.5 985.5V1002.5M317 985.5V1004M322.5 985.5V1005.5M327.9 985.5V1005.5M333.4 985.5V1003.5M338.9 985.5V999M344.3 985.5V996.7M349.8 985.5V993.5M355.3 985.5V992.5M360.8 985.5V997.5M366.2 985.5V998M371.7 985.5V997.5M377.2 985.5V996M382.7 985.5V996.7M388.1 985.5V995.5M393.6 985.5V994M399.1 985.5V996.7M404.5 985.5V998M410 985.5V997.5M415.5 985.5V997.5M421 985.5V996M426.4 985.5V993M431.9 985.5V989.7M503 985.5V989M508.5 985.5V988.7M514 985.5V986.8M519.5 985.5V990.5M524.9 985.5V988M530.4 985.5V987.5M552.3 985.5V987M557.8 985.5V988M563.2 985.5V989M568.7 985.5V990M574.2 985.5V990.5M579.6 985.5V989M585.1 985.5V989" stroke="#1fb46c" stroke-width="1.5" fill="none"/>
<path d="M109.1 984V985.5M114.5 980.5V985.5M120 978V985.5M125.5 976.7V985.5M130.9 976.7V985.5M136.4 976.7V985.5M141.9 975.5V985.5M147.4 975.5V985.5M152.8 971.7V985.5M158.3 970V985.5M163.8 971.7V985.5M169.2 971.7V985.5M174.7 971V985.5M180.2 970.5V985.5M185.7 971.7V985.5M191.1 969V985.5M196.6 970.5V985.5M202.1 969V985.5M207.5 965V985.5M213 968V985.5M218.5 970.5V985.5M224 971V985.5M229.4 973.7V985.5M234.9 974.7V985.5M240.4 971V985.5M245.9 973V985.5M251.3 973V985.5M256.8 972.5V985.5M262.3 977V985.5M267.7 982.5V985.5M437.4 983V985.5M442.8 979.7V985.5M448.3 976.7V985.5M453.8 978V985.5M459.3 979V985.5M464.7 979V985.5M470.2 974V985.5M475.7 973V985.5M481.1 974V985.5M486.6 974V985.5M492.1 979V985.5M497.6 984.3V985.5M535.9 982.5V985.5M541.3 980.5V985.5M546.8 982V985.5M590.6 983.7V985.5M596.1 979V985.5M601.5 972.5V985.5M607 966.7V985.5M612.5 963V985.5M617.9 961.7V985.5M623.4 962.5V986.5M628.9 966.7V986.5M634.4 969V986.5" stroke="#e8475f" stroke-width="1.5" fill="none"/>
<path d="M18.7 963.5 C19.8 963.8 22.7 964.3 25 965 C27.3 965.7 30 966.5 32.5 967.5 C35 968.5 37.5 969.8 40 971 C42.5 972.2 45 973.4 47.5 975 C50 976.6 52.5 978.8 55 980.5 C57.5 982.2 60 984.1 62.5 985.5 C65 986.9 67.5 987.8 70 989 C72.5 990.2 75 991.9 77.5 993 C80 994.1 82.5 994.8 85 995.5 C87.5 996.2 90 997 92.5 997.5 C95 998 97.5 998.5 100 998.7 C102.5 999 105 999 107.5 999 C110 999 112.5 998.8 115 998.5 C117.5 998.2 120 997.8 122.5 997.5 C125 997.2 127.5 997 130 996.7 C132.5 996.4 135 996 137.5 995.5 C140 995 142.5 994.8 145 994 C147.5 993.2 150 991.8 152.5 991 C155 990.2 157.5 989.7 160 989 C162.5 988.3 165 987.5 167.5 986.7 C170 985.9 173.3 984.6 175 984 C176.7 983.4 175.8 983.6 177.5 983 C179.2 982.4 182.5 981.3 185 980.5 C187.5 979.7 190 978.8 192.5 978 C195 977.2 197.5 976.3 200 975.5 C202.5 974.7 205 973.8 207.5 973 C210 972.2 212.5 971.3 215 970.5 C217.5 969.7 220 968.8 222.5 968 C225 967.2 227.5 966.7 230 966 C232.5 965.3 235 964.5 237.5 963.7 C240 962.9 242.5 962 245 961 C247.5 960 250.6 958.7 252.5 958 C254.4 957.3 255.1 957 256.7 956.7 C258.3 956.4 260.2 956.1 262 956 C263.8 955.9 265.9 955.9 267.7 956 C269.5 956.1 271.2 956.4 273 956.7 C274.8 957 276.9 957.5 278.7 958 C280.5 958.5 282.2 959.2 284 959.7 C285.8 960.2 287.7 960.3 289.5 961 C291.3 961.7 293.2 962.9 295 963.7 C296.8 964.5 298.7 965.2 300.5 966 C302.3 966.8 304.2 967.8 306 968.5 C307.8 969.2 309.7 969.8 311.5 970.5 C313.3 971.2 315.2 972.2 317 973 C318.8 973.8 320.7 974.8 322.5 975.5 C324.3 976.2 326.2 977 328 977.5 C329.8 978 331.9 978.2 333.5 978.5 C335.1 978.8 335.6 978.5 337.5 979 C339.4 979.5 342.5 981 345 981.7 C347.5 982.5 350 982.9 352.5 983.5 C355 984.1 357.5 984.8 360 985.5 C362.5 986.2 365 986.9 367.5 987.5 C370 988.1 372.5 988.4 375 989 C377.5 989.6 380 990.4 382.5 991 C385 991.6 387.5 992 390 992.5 C392.5 993 395 993.1 397.5 993.7 C400 994.3 402.5 995.3 405 996 C407.5 996.7 410 997.5 412.5 998 C415 998.5 417.5 998.6 420 999 C422.5 999.4 425.4 1000.2 427.5 1000.5 C429.6 1000.8 430.4 1000.8 432.5 1000.5 C434.6 1000.2 437.5 999.4 440 999 C442.5 998.6 445 998.3 447.5 998 C450 997.7 452.5 997.3 455 997 C457.5 996.7 460 996.5 462.5 996 C465 995.5 467.5 994.7 470 994 C472.5 993.3 475 992.6 477.5 992 C480 991.4 482.9 991 485 990.5 C487.1 990 487.9 989.3 490 989.2 C492.1 989.1 495 989.6 497.5 989.7 C500 989.8 502.5 989.9 505 990 C507.5 990.1 510 990.3 512.5 990.5 C515 990.7 517.5 990.9 520 991 C522.5 991.1 525 991.1 527.5 991 C530 990.9 532.5 990.7 535 990.5 C537.5 990.3 540 989.8 542.5 989.7 C545 989.6 547.5 989.6 550 989.7 C552.5 989.8 555 990.3 557.5 990.5 C560 990.7 562.5 990.8 565 991 C567.5 991.2 570 991.5 572.5 991.7 C575 992 577.5 992.5 580 992.5 C582.5 992.5 585.4 992.2 587.5 992 C589.6 991.8 590.8 991.5 592.5 991 C594.2 990.5 595.8 989.7 597.5 989 C599.2 988.3 600.8 987.5 602.5 986.7 C604.2 985.9 605.8 985 607.5 984 C609.2 983 610.8 981.8 612.5 981 C614.2 980.2 615.8 979.5 617.5 979 C619.2 978.5 620.8 978.5 622.5 978 C624.2 977.5 625.6 976.7 627.5 976 C629.4 975.3 632.7 974.3 633.7 974" stroke="#2ea7e0" stroke-width="1.65" fill="none" stroke-linejoin="round" stroke-linecap="round"/>
<path d="M18.7 969 C19.8 969.5 22.7 970.6 25 971.7 C27.3 972.8 30 974 32.5 975.5 C35 977 37.5 978.6 40 980.5 C42.5 982.4 45 984.5 47.5 986.7 C50 989 52.5 992 55 994 C57.5 996 60 997.5 62.5 998.7 C65 999.9 67.5 1000.3 70 1001 C72.5 1001.7 75 1002.5 77.5 1003 C80 1003.5 82.5 1003.8 85 1004 C87.5 1004.2 90.3 1004.5 92.5 1004.5 C94.7 1004.5 95.9 1004.6 98 1004 C100.1 1003.4 102.6 1002.2 105 1001 C107.4 999.8 110 997.9 112.5 996.7 C115 995.5 117.5 994.8 120 994 C122.5 993.2 125 992.6 127.5 992 C130 991.4 132.5 991 135 990.5 C137.5 990 140.4 989.1 142.5 988.7 C144.6 988.3 145.6 988.9 147.5 988 C149.4 987.1 151.8 984.8 153.7 983.5 C155.6 982.2 156.8 981.2 158.7 980.5 C160.6 979.8 163.1 979.3 165 979 C166.9 978.7 167.9 979.1 170 978.5 C172.1 977.9 175 976.3 177.5 975.5 C180 974.7 182.8 974.3 185 973.5 C187.2 972.7 189.1 971.2 191 970.5 C192.9 969.8 194.7 969.6 196.5 969 C198.3 968.4 200.2 967.8 202 966.7 C203.8 965.6 205.7 963.3 207.5 962.5 C209.3 961.7 211.2 962 213 961.7 C214.8 961.5 216.7 961.3 218.5 961 C220.3 960.7 222.2 960.3 224 960 C225.8 959.7 227.7 959.3 229.5 959 C231.3 958.7 233.2 958.7 235 958 C236.8 957.3 238.7 955.7 240.5 955 C242.3 954.3 243.9 954.4 245.7 954 C247.4 953.6 249.2 953 251 952.5 C252.8 952 254.9 951 256.7 951 C258.5 951 260.2 951.8 262 952.5 C263.8 953.2 265.9 954 267.7 955 C269.5 956 271.2 957.4 273 958.5 C274.8 959.6 276.9 960.8 278.7 961.7 C280.5 962.6 282.2 963.1 284 963.7 C285.8 964.3 287.7 964.4 289.5 965.5 C291.3 966.6 293.2 969.2 295 970.5 C296.8 971.8 298.7 972.2 300.5 973 C302.3 973.8 304.2 974.9 306 975.5 C307.8 976.1 309.7 976.1 311.5 976.7 C313.3 977.3 315.2 978 317 979 C318.8 980 320.7 982 322.5 983 C324.3 984 326.2 984.6 328 985 C329.8 985.4 331.9 985.4 333.5 985.5 C335.1 985.6 335.6 985.6 337.5 985.5 C339.4 985.4 342.5 985.1 345 985 C347.5 984.9 350 984.3 352.5 985 C355 985.7 357.5 988 360 989 C362.5 990 365 990.3 367.5 991 C370 991.7 372.5 992.3 375 993 C377.5 993.7 380 994.5 382.5 995 C385 995.5 387.5 995.3 390 996 C392.5 996.7 395 998 397.5 999 C400 1000 402.5 1000.9 405 1001.7 C407.5 1002.5 410 1003.5 412.5 1004 C415 1004.5 417.5 1004.8 420 1004.7 C422.5 1004.6 425.4 1004 427.5 1003.5 C429.6 1003 430.4 1002.6 432.5 1001.7 C434.6 1000.8 437.5 999.3 440 998 C442.5 996.7 445 994.8 447.5 994 C450 993.2 452.5 993.8 455 993.5 C457.5 993.2 460 993.4 462.5 992.5 C465 991.6 467.8 989.1 470 988 C472.2 986.9 473.9 986.5 476 986 C478.1 985.5 480.6 985 482.5 984.7 C484.4 984.4 485.8 983.6 487.5 984 C489.2 984.4 491.2 986.2 492.5 987 C493.8 987.8 493.3 988 495 988.7 C496.7 989.4 500 990.8 502.5 991 C505 991.2 507.5 989.8 510 990 C512.5 990.2 515 992.2 517.5 992.5 C520 992.8 522.5 992 525 991.7 C527.5 991.4 530 991.1 532.5 990.5 C535 989.9 537.8 988.3 540 988 C542.2 987.7 543.9 988.3 546 988.7 C548.1 989.1 550.2 990 552.5 990.5 C554.8 991 557.5 991.3 560 991.7 C562.5 992.1 565 992.6 567.5 993 C570 993.4 572.5 993.9 575 994 C577.5 994.1 580 993.9 582.5 993.5 C585 993.1 587.8 992.8 590 991.7 C592.2 990.6 594.1 988.6 596 986.7 C597.9 984.8 599.7 982.4 601.5 980.5 C603.3 978.6 605.2 977.2 607 975.5 C608.8 973.8 610.7 971.8 612.5 970.5 C614.3 969.2 616.2 968.1 618 967.5 C619.8 966.9 621.7 966.8 623.5 966.7 C625.3 966.6 627.3 967 629 967 C630.7 967 632.9 966.8 633.7 966.7" stroke="#f5912d" stroke-width="1.65" fill="none" stroke-linejoin="round" stroke-linecap="round"/>
</svg>

<!-- axis labels -->
<div class="t ax" style="left:18px;top:312px">2.220</div>
<div class="t ax" style="left:18px;top:413px">1.745</div>
<div class="t ax" style="left:18px;top:523px">1.270</div>
<div class="t ax" style="left:18px;top:632px">0.795</div>
<div class="t ax" style="left:18px;top:734px">0.320</div>
<div class="t" style="left:287px;top:340px;font-size:16.500px;color:#e6e6e8">2.03</div>
<div class="t" style="left:107px;top:702px;font-size:16.500px;color:#e6e6e8">0.51</div>
<div class="t ax" style="left:46px;top:752px">08/20 12:00</div>
<div class="t ax" style="left:235.500px;top:752px">12:30</div>
<div class="t ax" style="left:398.500px;top:752px">13:00</div>
<div class="t ax" style="left:563.500px;top:752px">13:30</div>

<!-- volume legend -->
<div class="t" style="left:18px;top:792px;font-size:16.300px;color:#e3e3e6">成交量</div>
<div class="t" style="left:77px;top:792px;font-size:16.600px;letter-spacing:0.250px;color:#f0667a">VOL:240.000</div>
<div class="t ax" style="left:18px;top:821px">1820张</div>
<div class="t ax" style="left:18px;top:850px">910</div>

<!-- macd legend -->
<div class="t" style="left:18px;top:918px;font-size:16px;color:#e3e3e6">MACD(12,26,9)</div>
<div class="t" style="left:138px;top:918px;font-size:16px;color:#f5912d">DIF:0.136</div>
<div class="t" style="left:217px;top:918px;font-size:16px;color:#2ea7e0">DEA:0.081</div>
<div class="t" style="left:306px;top:918px;font-size:16px;color:#d96fd9">MACD:0.111</div>
<div class="t ax" style="left:18px;top:947px">0.298</div>
<div class="t ax" style="left:18px;top:976px">0.025</div>
<div class="t ax" style="left:18px;top:1005px">-0.248</div>

<!-- period selector -->
<svg class="ico" style="left:28px;top:1038px" width="24" height="24" viewBox="0 0 24 24">
  <rect x="2" y="2.500" width="20" height="19" rx="4" stroke="#8f9095" stroke-width="1.500" fill="none"/>
  <text x="12" y="16" font-family="Liberation Sans, sans-serif" font-size="10" font-weight="bold" fill="#8f9095" text-anchor="middle">1D</text>
</svg>
<div class="t per" style="left:103.500px;">日K</div>
<div class="ico" style="left:172px;top:1031.500px;width:76px;height:38px;border-radius:9px;background:#2c2d31"></div>
<div class="t per" style="left:184.500px;color:#f4f4f5;font-weight:bold;font-size:20px">1分钟</div>
<div class="t per" style="left:281px;">5分钟</div>
<div class="t per" style="left:382px;">15分钟</div>
<div class="t per" style="left:492px;">1小时</div>
<svg class="ico" style="left:545px;top:1047px" width="12" height="8" viewBox="0 0 12 8"><path d="M1 1h10L6 7z" fill="#9b9ca1"/></svg>
<svg class="ico" style="left:584px;top:1037px" width="24" height="26" viewBox="0 0 24 26">
  <path d="M7 2v4M7 19v5M17 2v4M17 19v5" stroke="#a9aaae" stroke-width="1.700" stroke-linecap="round"/>
  <rect x="4" y="6" width="6" height="13" rx="1.500" stroke="#a9aaae" stroke-width="1.700" fill="none"/>
  <rect x="14" y="6" width="6" height="13" rx="1.500" stroke="#a9aaae" stroke-width="1.700" fill="none"/>
</svg>
<svg class="ico" style="left:620px;top:1038px" width="26" height="24" viewBox="0 0 26 24">
  <g stroke="#a9aaae" stroke-width="1.700" fill="none">
  <rect x="3" y="2.500" width="8" height="8" rx="2.500"/><rect x="14.500" y="2.500" width="8" height="8" rx="2.500"/>
  <rect x="3" y="13.500" width="8" height="8" rx="2.500"/><rect x="14.500" y="13.500" width="8" height="8" rx="2.500"/>
  </g>
</svg>

<div class="band" style="top:1092px;height:1px;background:#1d1e21"></div>

<!-- actions row -->
<svg class="ico" style="left:50.300px;top:1129.100px" width="24" height="24" viewBox="0 0 24 24">
  <circle cx="12" cy="12" r="10.100" stroke="#ee7a22" stroke-width="1.700" fill="none"/>
  <path d="M8.400 7.500H13.400L5.200 16.800M20.200 7.300L11.500 17.300H16.100" stroke="#ee7a22" stroke-width="1.800" fill="none" stroke-linejoin="miter"/>
</svg>
<div class="t act" style="left:80px;">交易</div>
<svg class="ico" style="left:210.500px;top:1129px" width="24" height="24" viewBox="0 0 24 24">
  <rect x="3" y="3.200" width="18.200" height="18" rx="2.200" stroke="#cc2843" stroke-width="1.800" fill="none"/>
  <path d="M3 8.900h18.200M8.300 8.900a3.800 3.800 0 0 0 7.600 0" stroke="#cc2843" stroke-width="1.800" fill="none"/>
  <path d="M10 9.500h4.200a2.100 1.600 0 0 1-4.200 0z" fill="#cc2843"/>
</svg>
<div class="t act" style="left:241px;">持仓</div>
<svg class="ico" style="left:372px;top:1128px" width="24" height="26" viewBox="0 0 24 26">
  <rect x="3" y="5" width="16.600" height="18" rx="3" stroke="#2d66ea" stroke-width="1.800" fill="none"/>
  <rect x="7.300" y="2.700" width="8" height="4.600" rx="2" stroke="#2d66ea" stroke-width="1.800" fill="#111214"/>
  <path d="M8 13.100h6.600M8 16.700h6.600" stroke="#2d66ea" stroke-width="1.800" stroke-linecap="round"/>
</svg>
<div class="t act" style="left:402px;">订单</div>
<svg class="ico" style="left:532px;top:1129px" width="24" height="24" viewBox="0 0 24 24">
  <circle cx="12" cy="12" r="10" stroke="#2399a0" stroke-width="1.800" fill="none"/>
  <path d="M11.500 7.300v4.300l4.200 3.900" stroke="#2399a0" stroke-width="1.800" fill="none" stroke-linecap="round" stroke-linejoin="round"/>
</svg>
<div class="t act" style="left:563px;">历史</div>

<div class="band" style="top:1188px;height:1px;background:#1d1e21"></div>

<!-- order book header -->
<div class="t" style="left:19px;top:1225px;font-size:23px;color:#e9e9eb">买盘</div>
<div class="t" style="left:337px;top:1225px;font-size:23px;color:#e9e9eb">卖盘</div>

<!-- index bar -->
<div class="ico" style="left:0;top:1260px;width:660px;height:49px;background:#1b1b1d;border-radius:12px 12px 0 0"></div>
<div class="t" style="left:16px;top:1275px;font-size:21.300px;letter-spacing:0.200px;color:#ececee">标普500</div>
<div class="t g" style="left:340px;top:1275.500px;font-size:22.600px;letter-spacing:-0.450px">6388.47</div>
<div class="t g" style="left:451px;top:1275.500px;font-size:22.600px;letter-spacing:-0.350px">-22.90</div>
<div class="t g" style="left:542px;top:1275.500px;font-size:22.600px;letter-spacing:-0.450px">-0.36%</div>
<svg class="ico" style="left:627px;top:1278px" width="18" height="14" viewBox="0 0 18 14"><path d="M4 10L9 5L14 10" stroke="#8d8e93" stroke-width="1.400" fill="none"/></svg>

<!-- bottom bar -->
<div class="ico" style="left:0;top:1309px;width:660px;height:125px;background:#111214"></div>
<div class="ico" style="left:18px;top:1322px;width:156px;height:47px;border-radius:24px;background:#ea6a10"></div>
<div class="t" style="left:74px;top:1335px;font-size:21.500px;font-weight:bold;color:#111214">交易</div>
<svg class="ico" style="left:247px;top:1329px" width="36" height="36" viewBox="0 0 36 36">
  <g stroke="#b9b9bd" stroke-width="2.100" fill="none" stroke-linejoin="round" stroke-linecap="round">
  <path d="M21.300 6.800A8.600 8.600 0 0 0 9.400 14.600v5.400c0 2.600-3.800 5.400-3.800 7.800h24.600c0-2.300-3.700-5-3.900-8.200"/>
  <path d="M17.800 2.900v2.300M13.700 31.600h8.300M26.900 7.600v9M22.400 12.100h9"/>
  </g>
</svg>
<svg class="ico" style="left:405px;top:1329px" width="36" height="36" viewBox="0 0 36 36">
  <g stroke="#b9b9bd" stroke-width="2.100" fill="none" stroke-linejoin="round" stroke-linecap="round">
  <path d="M14.500 8.600H9a4.500 4.500 0 0 0-4.500 4.500v13a4.500 4.500 0 0 0 4.500 4.500h17.500a4.500 4.500 0 0 0 4.500-4.500v-7.500"/>
  <path d="M13.200 21.500c0-6.400 4.500-10.400 11-10.400h6.300M25.400 5.900l5.900 5.200l-5.900 5.200"/>
  </g>
</svg>
<div class="ico" style="left:577.500px;top:1332.500px;width:5px;height:5px;border-radius:50%;background:#b9b9bd"></div>
<div class="ico" style="left:577.500px;top:1344px;width:5px;height:5px;border-radius:50%;background:#b9b9bd"></div>
<div class="ico" style="left:577.500px;top:1355.500px;width:5px;height:5px;border-radius:50%;background:#b9b9bd"></div>

<div class="ico" style="left:213px;top:1413.500px;width:234px;height:8px;border-radius:4px;background:#ffffff"></div>

</body>
</html>
